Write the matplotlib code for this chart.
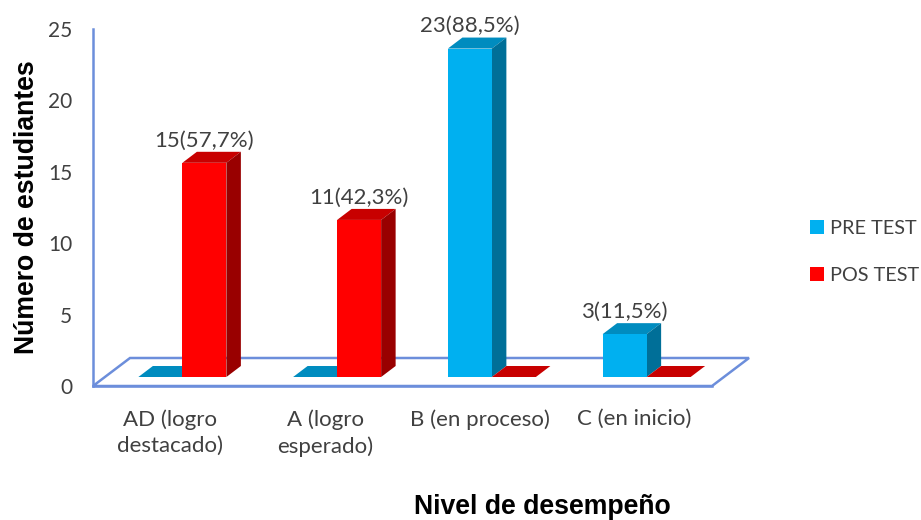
import matplotlib
matplotlib.use("Agg")
import matplotlib.pyplot as plt
from matplotlib.patches import Polygon, Patch

categories = ["AD (logro\ndestacado)", "A (logro\nesperado)", "B (en proceso)", "C (en inicio)"]
pre_test = [0, 0, 23, 3]
pos_test = [15, 11, 0, 0]
pre_labels = [None, None, "23(88,5%)", "3(11,5%)"]
pos_labels = ["15(57,7%)", "11(42,3%)", None, None]
series_names = ["PRE TEST", "POS TEST"]
yticks = [0, 5, 10, 15, 20, 25]

W, H = 921, 520
L, R, B, T = 93, 712, 386, 29
fig = plt.figure(figsize=(W / 100, H / 100), dpi=100)
ax = fig.add_axes([L / W, 1 - B / H, (R - L) / W, (B - T) / H])
ax.set_xlim(0, len(categories))
ax.set_ylim(0, 25)
ppx = len(categories) / (R - L)
ppy = 25 / (B - T)

FONT = "Lato"
TXT = "#404040"
AX = "#6C8EDB"
BLUE = ("#00B0F0", "#008CBF", "#006F98")
RED = ("#FF0000", "#C80000", "#990000")

for s in ("top", "right"):
    ax.spines[s].set_visible(False)
for s in ("left", "bottom"):
    ax.spines[s].set_color(AX)
    ax.spines[s].set_linewidth(1.8)

ax.set_xticks([i + 0.5 for i in range(len(categories))])
ax.set_xticklabels(categories, fontsize=16, color=TXT, family=FONT, linespacing=1.41)
ax.set_yticks(yticks)
ax.set_yticklabels([str(v) for v in yticks], fontsize=15, color=TXT, family=FONT)
ax.tick_params(axis="x", length=0, pad=16.5)
ax.tick_params(axis="y", length=0, pad=15)

# floor
fdx, fdy = 37 * ppx, 28 * ppy
ax.add_patch(Polygon([(0, 0), (4, 0), (4 + fdx, fdy), (fdx, fdy)], closed=True, fill=False,
                     edgecolor=AX, linewidth=1.8, clip_on=False, zorder=1))

# bar plane
ox, oy = 12 * ppx, 9 * ppy
dx, dy = 14.5 * ppx, 11 * ppy
bw = 44 * ppx


def bar3d(x0, v, cols, z):
    x0 += ox
    base, top = oy, oy + v
    x1 = x0 + bw
    kw = dict(closed=True, clip_on=False, zorder=z, linewidth=0)
    ax.add_patch(Polygon([(x0, top), (x1, top), (x1 + dx, top + dy), (x0 + dx, top + dy)], facecolor=cols[1], **kw))
    if v > 0:
        ax.add_patch(Polygon([(x1, base), (x1 + dx, base + dy), (x1 + dx, top + dy), (x1, top)], facecolor=cols[2], **kw))
        ax.add_patch(Polygon([(x0, base), (x1, base), (x1, top), (x0, top)], facecolor=cols[0], **kw))
    return x0 + bw / 2, top


for i in range(len(categories)):
    c = i + 0.5
    xc, yt = bar3d(c - bw, pre_test[i], BLUE, 2 + i)
    if pre_labels[i]:
        ax.annotate(pre_labels[i], (xc, yt), xytext=(0, 16), textcoords="offset points", ha="center", va="center",
                    fontsize=16, color=TXT, family=FONT, annotation_clip=False, zorder=10)
    xc, yt = bar3d(c, pos_test[i], RED, 2 + i)
    if pos_labels[i]:
        ax.annotate(pos_labels[i], (xc, yt), xytext=(0, 16), textcoords="offset points", ha="center", va="center",
                    fontsize=16, color=TXT, family=FONT, annotation_clip=False, zorder=10)

ax.set_xlabel("Nivel de desempeño", fontsize=19.2, fontweight="bold", family="Liberation Sans", color="black")
ax.xaxis.set_label_coords((542 - L) / (R - L), (B - 507) / (B - T))
ax.xaxis.label.set_va("center")
ax.set_ylabel("Número de estudiantes", fontsize=19.2, fontweight="bold", family="Liberation Sans", color="black")
ax.yaxis.set_label_coords((27 - L) / (R - L), (B - 207) / (B - T))
ax.yaxis.label.set_va("center")

handles = [Patch(facecolor=BLUE[0], label=series_names[0]), Patch(facecolor=RED[0], label=series_names[1])]
fig.legend(handles=handles, loc="center left", bbox_to_anchor=(804 / W, 1 - 252 / H), frameon=False,
           prop={"family": FONT, "size": 14.3}, labelcolor=TXT, handlelength=0.7, handleheight=0.7,
           handletextpad=0.3, labelspacing=1.5, borderpad=0.3, borderaxespad=0)

fig.savefig("out.png", dpi=100)
